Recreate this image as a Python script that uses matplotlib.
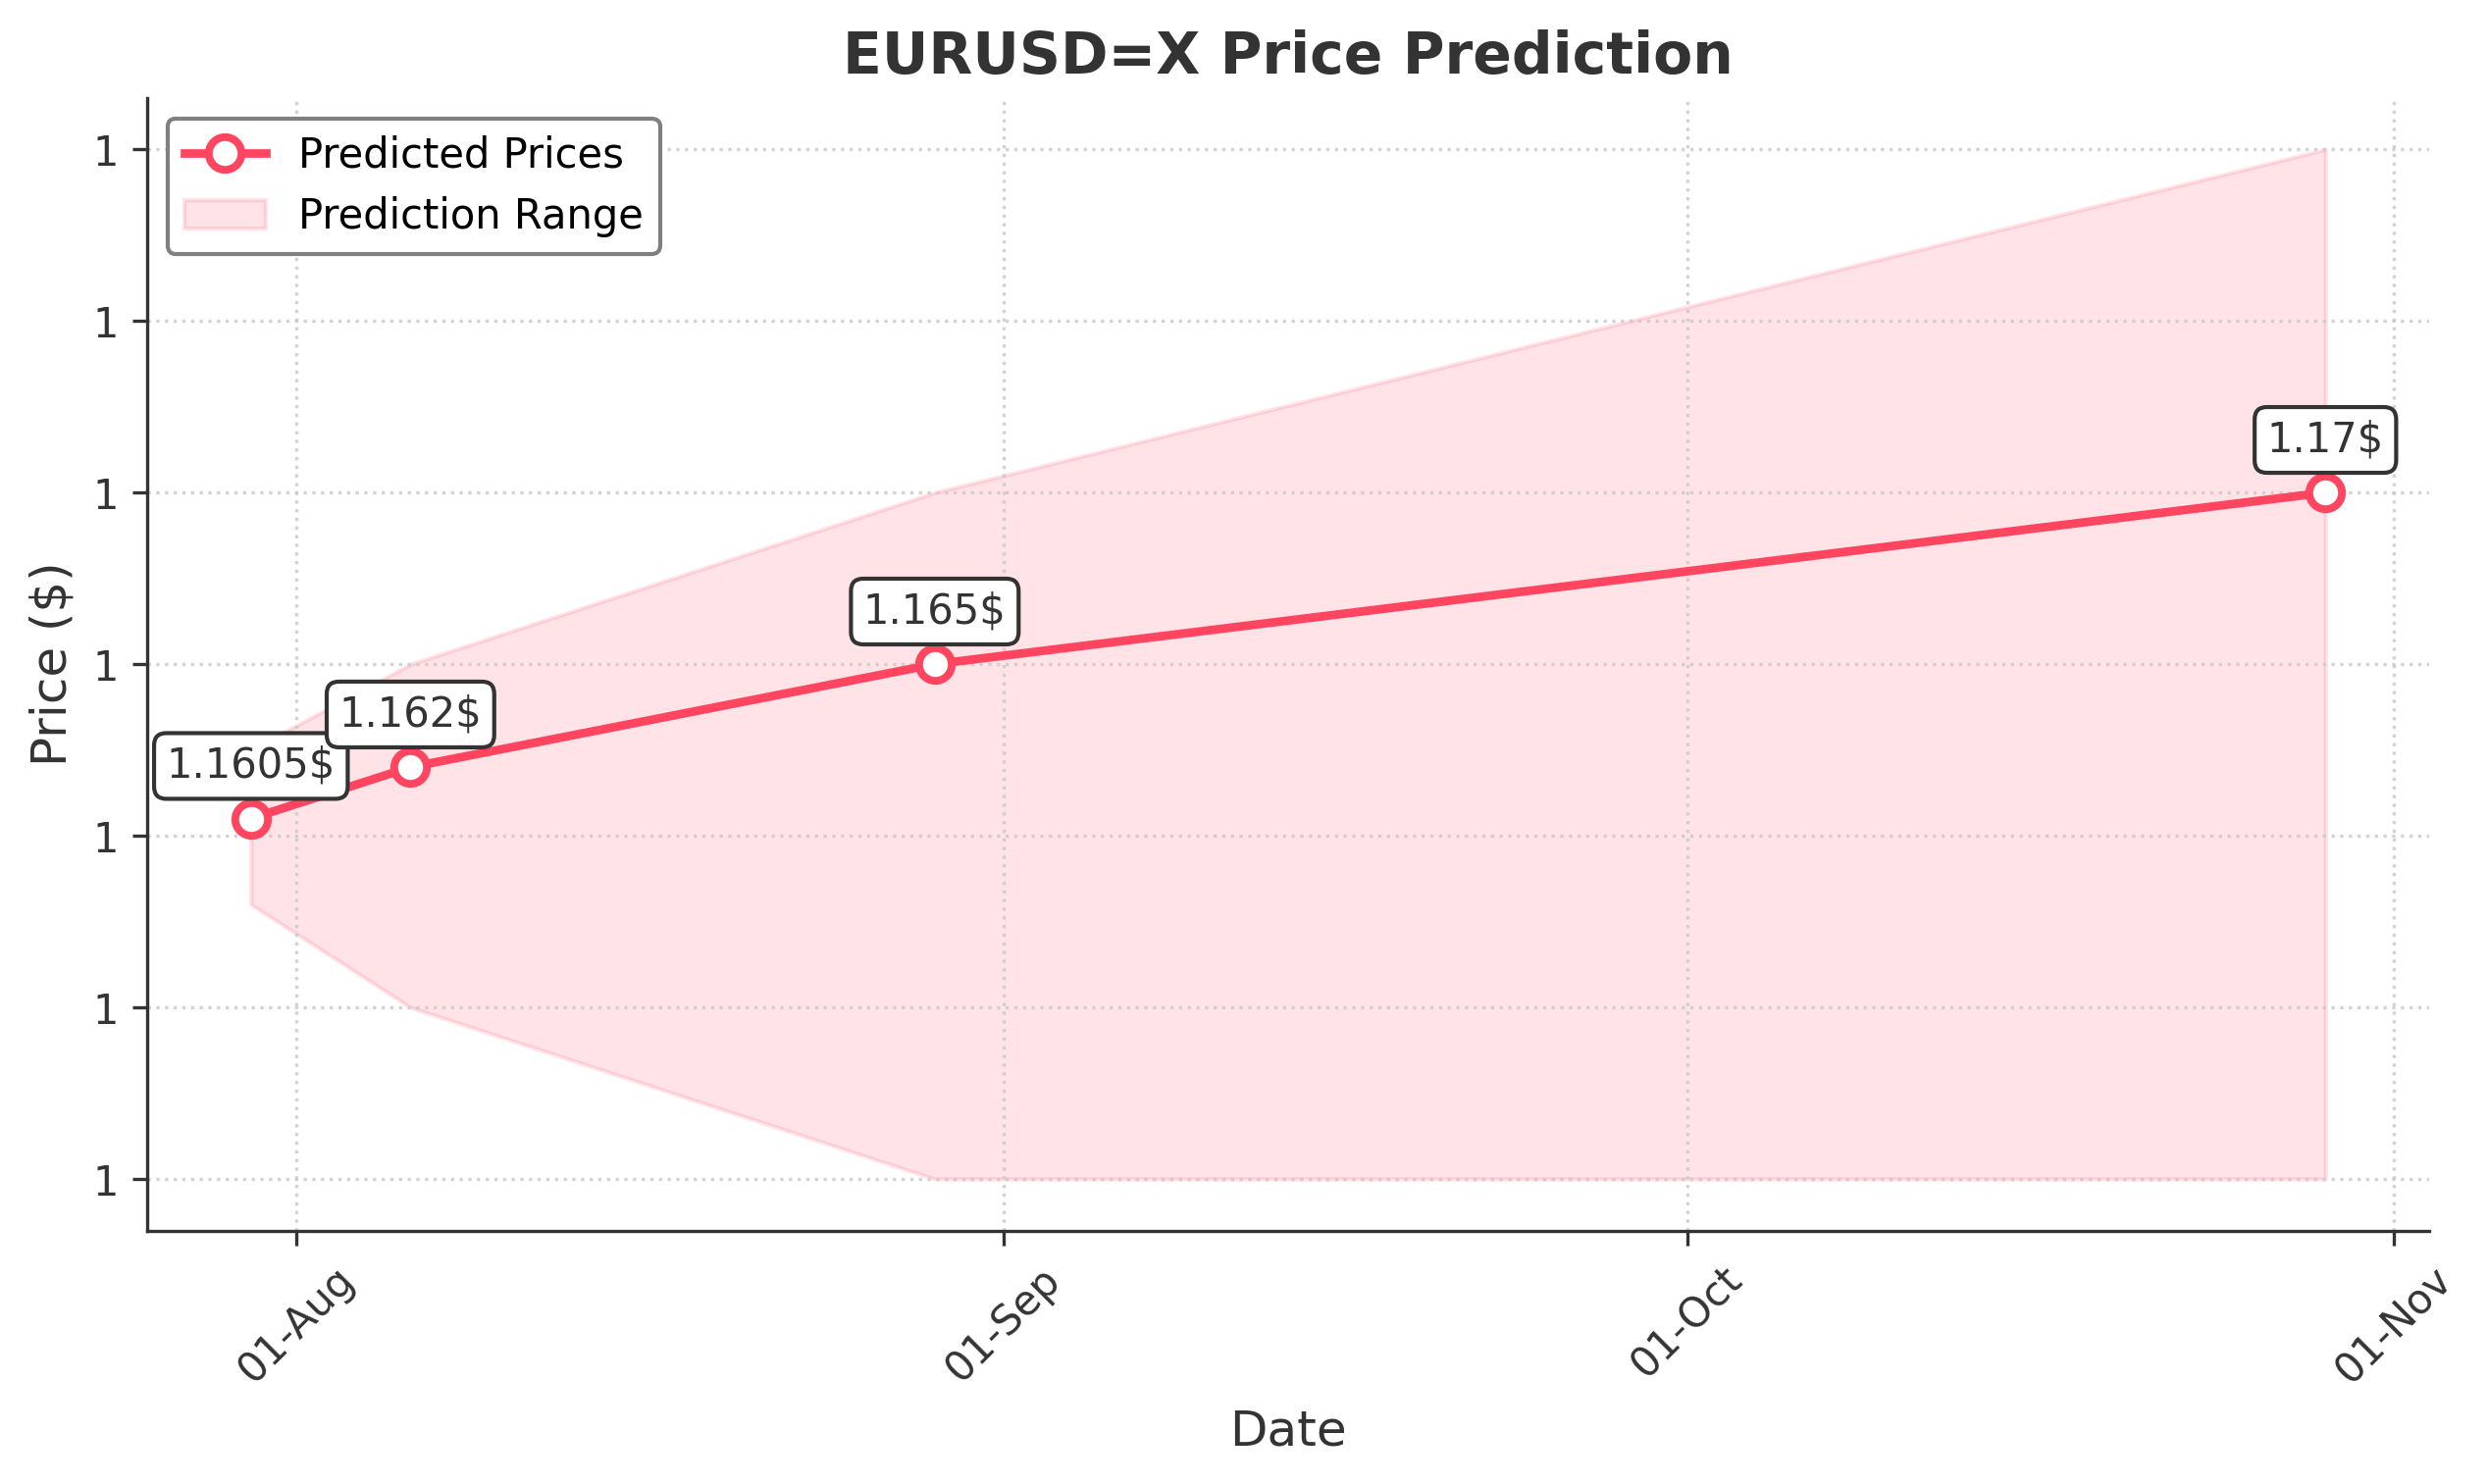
import numpy as np
import pandas as pd
import matplotlib
matplotlib.use('Agg')
import matplotlib.pyplot as plt
import matplotlib.dates as mdates
from matplotlib.ticker import FormatStrFormatter

# Dados da previsão
dates = pd.to_datetime(['2025-07-30', '2025-08-06', '2025-08-29', '2025-10-29'])
predicted = [1.1605, 1.162, 1.165, 1.17]
lower = [1.158, 1.155, 1.15, 1.15]
upper = [1.1625, 1.165, 1.17, 1.18]
labels = ['1.1605$', '1.162$', '1.165$', '1.17$']

line_color = '#FF4560'
text_color = '#333333'

plt.rcParams['font.family'] = 'DejaVu Sans'
plt.rcParams['axes.edgecolor'] = text_color
plt.rcParams['axes.labelcolor'] = text_color
plt.rcParams['xtick.color'] = text_color
plt.rcParams['ytick.color'] = text_color

fig = plt.figure(figsize=(2536 / 300, 1513 / 300), dpi=300)
ax = fig.add_axes([150 / 2536, 1 - 1254.5 / 1513, (2476 - 150) / 2536, (1254.5 - 99.8) / 1513])

# Linha prevista primeiro (ordem da legenda)
ax.plot(dates, predicted, color=line_color, linewidth=2.1, marker='o', markersize=8,
        markerfacecolor='white', markeredgecolor=line_color, markeredgewidth=1.9,
        label='Predicted Prices')
ax.fill_between(dates, lower, upper, color=line_color, alpha=0.15, label='Prediction Range')

for d, p, lab in zip(dates, predicted, labels):
    ax.annotate(lab, (d, p), xytext=(0, 10), textcoords='offset points', ha='center',
                fontsize=10, color=text_color,
                bbox=dict(boxstyle='round,pad=0.3', facecolor='white', edgecolor=text_color, linewidth=1))

ax.set_title('EURUSD=X Price Prediction', fontsize=14, fontweight='bold', color=text_color)
ax.set_xlabel('Date', fontsize=12)
ax.set_ylabel('Price ($)', fontsize=12)

ax.xaxis.set_major_locator(mdates.MonthLocator())
ax.xaxis.set_major_formatter(mdates.DateFormatter('%d-%b'))
ax.yaxis.set_major_formatter(FormatStrFormatter('%.0f'))
plt.setp(ax.get_xticklabels(), rotation=45)
ax.tick_params(labelsize=10)

ax.grid(True, linestyle=':', color='#c8c8c8', linewidth=0.8, alpha=0.8)
ax.spines['top'].set_visible(False)
ax.spines['right'].set_visible(False)

leg = ax.legend(loc='upper left', fontsize=10, frameon=True, edgecolor='gray', framealpha=1)
leg.get_frame().set_linewidth(1)

fig.savefig('out.png', dpi=300)
